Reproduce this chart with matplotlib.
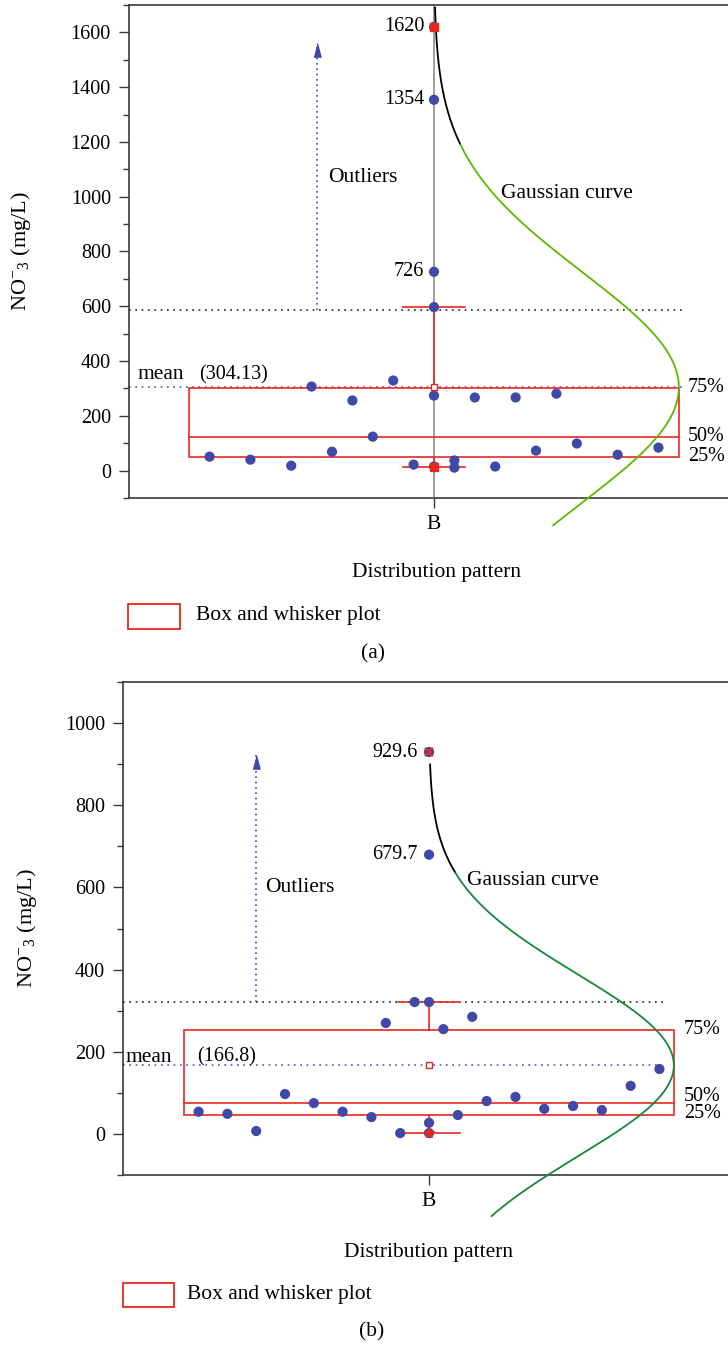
import numpy as np
import matplotlib
matplotlib.use("Agg")
import matplotlib.pyplot as plt
from matplotlib.patches import Rectangle

plt.rcParams["font.family"] = ["Liberation Serif", "DejaVu Serif"]
plt.rcParams["mathtext.fontset"] = "custom"
plt.rcParams["mathtext.rm"] = "Liberation Serif"
plt.rcParams["mathtext.it"] = "Liberation Serif:italic"

# ---------------- data ----------------
category = "B"
ylabel = r"NO$^{-}$$_{3}$ (mg/L)"

# panel (a): nitrate concentrations drawn as a swarm (slot = swarm column)
a_values = [51, 40, 18, 307, 69, 256, 124, 329, 22, 274, 597, 15, 37, 11,
            267, 15, 267, 73, 281, 99, 58, 84]
a_slots = [-11, -9, -7, -6, -5, -4, -3, -2, -1, 0, 0, 0, 1, 1,
           2, 3, 4, 5, 6, 7, 9, 11]
a_outliers = [726, 1354, 1620]
a_outlier_labels = ["726", "1354", "1620"]
a_q1, a_median, a_q3 = 51, 124, 303
a_low, a_high = 15, 597
a_mean = 304.13
a_fence = 588
a_sigma = 420

# panel (b)
b_values = [54, 49, 7, 97, 75, 54, 41, 270, 2, 321, 321, 27, 2, 255, 46,
            285, 80, 90, 61, 68, 58, 117, 158]
b_slots = [-16, -14, -12, -10, -8, -6, -4, -3, -2, -1, 0, 0, 0, 1, 2,
           3, 4, 6, 8, 10, 12, 14, 16]
b_outliers = [679.7, 929.6]
b_outlier_labels = ["679.7", "929.6"]
b_q1, b_median, b_q3 = 46, 75, 253
b_low, b_high = 2, 321
b_mean = 166.8
b_fence = 322
b_sigma = 222

# ---------------- style ----------------
BLUE = "#4149A8"
RED = "#E8281F"
SPINE = "#3a3a3a"
FS = 14.5      # numbers
FT = 15.5      # words

W, H = 728, 1346
fig = plt.figure(figsize=(W / 100, H / 100), dpi=100)


def px_rect(left, top, right, bottom):
    return [left / W, 1 - bottom / H, (right - left) / W, (bottom - top) / H]


def style_axes(ax, ylim, xlim, label_x):
    ax.set_ylim(*ylim)
    ax.set_xlim(*xlim)
    ax.spines["right"].set_visible(False)
    for s in ("left", "top", "bottom"):
        ax.spines[s].set_color(SPINE)
        ax.spines[s].set_linewidth(1.2)
    ax.set_xticks([0])
    ax.set_xticklabels([category], fontsize=FT)
    ax.tick_params(axis="x", direction="out", length=7, width=1.0,
                   color=SPINE, pad=5)
    ax.tick_params(axis="y", which="major", direction="out", length=7,
                   width=1.0, color=SPINE, labelsize=FS, pad=6)
    ax.tick_params(axis="y", which="minor", direction="out", length=4,
                   width=1.0, color=SPINE)
    ax.set_ylabel(ylabel, fontsize=16)
    ax.yaxis.set_label_coords(label_x, 0.5)


def mean_label(m):
    return ("%.2f" % m) if abs(m * 10 - round(m * 10)) > 1e-6 else ("%.1f" % m)


def draw_panel(ax, values, slots, outliers, outlier_labels, q1, median, q3,
               low, high, mean, fence, sigma, box_half, cap_half,
               curve_color, line_end, mean_end, arrow_slot, arrow_top,
               outlier_text, gauss_text, mean_text, mean_num_slot,
               pct_slot, pct_y, label_off, max_marker, min_marker):
    # box, median and whiskers
    ax.add_patch(Rectangle((-box_half, q1), 2 * box_half, q3 - q1,
                           fill=False, edgecolor=RED, lw=1.2, zorder=2))
    ax.plot([-box_half, box_half], [median, median], color=RED, lw=1.2, zorder=2)
    ax.plot([0, 0], [q3, high], color=RED, lw=1.2, zorder=2)
    ax.plot([0, 0], [low, q1], color=RED, lw=1.2, zorder=2)
    for v in (low, high):
        ax.plot([-cap_half, cap_half], [v, v], color=RED, lw=1.2, zorder=2)

    # fence line and mean line
    x0 = ax.get_xlim()[0]
    ax.plot([x0, line_end], [fence, fence], color="#222222", lw=1.2,
            linestyle=(0, (1, 2.8)), zorder=1)
    ax.plot([x0, mean_end], [mean, mean], color="#4a55c8", lw=1.2,
            linestyle=(0, (1, 2.8)), zorder=1)

    # data points
    ax.scatter(slots, values, s=54, color=BLUE, edgecolors="none", zorder=4)
    ax.scatter([0] * len(outliers), outliers, s=54, color=BLUE,
               edgecolors="none", zorder=4)
    for v, t in zip(outliers, outlier_labels):
        ax.annotate(t, (0, v), xytext=(label_off, 0), textcoords="offset points",
                    ha="right", va="center", fontsize=FS)

    # max / min / mean markers
    ax.plot(0, max(outliers), linestyle="none", **max_marker, zorder=5)
    ax.plot(0, low, linestyle="none", **min_marker, zorder=5)
    ax.plot(0, mean, marker="s", markersize=4.5, markerfacecolor="white",
            markeredgecolor=RED, markeredgewidth=1.0, zorder=5)

    # gaussian curve, drawn sideways from the category position
    y_top = min(mean + 3.3 * sigma, ax.get_ylim()[1])
    yy = np.linspace(-200, y_top, 600)
    xx = box_half * np.exp(-(yy - mean) ** 2 / (2 * sigma ** 2))
    split = mean + 2.12 * sigma
    lo = yy <= split
    ax.plot(xx[lo], yy[lo], color=curve_color, lw=1.3, clip_on=False, zorder=3)
    ax.plot(xx[~lo], yy[~lo], color="black", lw=1.3, clip_on=False, zorder=3)

    # outlier arrow
    ax.plot([arrow_slot, arrow_slot], [fence, arrow_top], color=BLUE, lw=1.2,
            linestyle=(0, (1, 2.2)), zorder=1)
    per_px = (ax.get_ylim()[1] - ax.get_ylim()[0]) / ax.bbox.height
    ax.plot(arrow_slot, arrow_top - 6.5 * per_px, linestyle="none",
            marker=[(-0.27, -0.5), (0.27, -0.5), (0, 0.5)], markersize=9.5,
            color=BLUE, zorder=3)

    # annotations
    ax.text(outlier_text[0], outlier_text[1], "Outliers", fontsize=FT,
            ha="left", va="center")
    ax.text(gauss_text[0], gauss_text[1], "Gaussian curve", fontsize=FT,
            ha="left", va="center")
    ax.text(mean_text[0], mean_text[1], "mean", fontsize=FT, ha="left",
            va="center")
    ax.text(mean_num_slot, mean_text[1], "(%s)" % mean_label(mean), fontsize=FS,
            ha="left", va="center")
    for t, y in zip(("75%", "50%", "25%"), pct_y):
        ax.text(pct_slot, y, t, fontsize=FS, ha="left", va="center",
                clip_on=False)


def legend_and_caption(xlabel_xy, box_left, box_top, box_w, box_h, text_x,
                       text_y, cap_xy, cap):
    fig.text(xlabel_xy[0] / W, 1 - xlabel_xy[1] / H, "Distribution pattern",
             fontsize=FT, ha="center", va="center")
    fig.add_artist(Rectangle((box_left / W, 1 - (box_top + box_h) / H),
                             box_w / W, box_h / H, transform=fig.transFigure,
                             fill=False, edgecolor=RED, lw=1.3))
    fig.text(text_x / W, 1 - text_y / H, "Box and whisker plot", fontsize=FT,
             ha="left", va="center")
    fig.text(cap_xy[0] / W, 1 - cap_xy[1] / H, cap, fontsize=FT,
             ha="center", va="center")


# ---------------- panel (a) ----------------
ax_a = fig.add_axes(px_rect(129, 5, 728, 498))
style_axes(ax_a, (-100, 1700), (-14.95, 14.41), (33 - 129) / 599)
ax_a.set_yticks(np.arange(0, 1601, 200))
ax_a.set_yticks(np.arange(-100, 1701, 100), minor=True)
ax_a.axvline(0, color="#8c8c8c", lw=1.2, zorder=1)
draw_panel(ax_a, a_values, a_slots, a_outliers, a_outlier_labels,
           a_q1, a_median, a_q3, a_low, a_high, a_mean, a_fence, a_sigma,
           box_half=12, cap_half=1.5, curve_color="#5DB800",
           line_end=12.25, mean_end=12.25, arrow_slot=-5.74, arrow_top=1561,
           outlier_text=(-5.2, 1072), gauss_text=(3.28, 1013),
           mean_text=(-14.55, 351), mean_num_slot=-11.5,
           pct_slot=12.45, pct_y=(a_q3, a_median, a_q1), label_off=-7,
           max_marker=dict(marker="s", markersize=6, color=RED),
           min_marker=dict(marker="s", markersize=5.5, color=RED))
legend_and_caption((436, 573), 128, 604, 52, 25, 196, 616, (373, 654), "(a)")

# ---------------- panel (b) ----------------
ax_b = fig.add_axes(px_rect(123, 682, 728, 1175))
style_axes(ax_b, (-100, 1100), (-21.25, 20.76), (39 - 123) / 605)
ax_b.set_yticks(np.arange(0, 1001, 200))
ax_b.set_yticks(np.arange(-100, 1101, 100), minor=True)
draw_panel(ax_b, b_values, b_slots, b_outliers, b_outlier_labels,
           b_q1, b_median, b_q3, b_low, b_high, b_mean, b_fence, b_sigma,
           box_half=17, cap_half=2.15, curve_color="#15893A",
           line_end=16.5, mean_end=15.8, arrow_slot=-12.0, arrow_top=922,
           outlier_text=(-11.4, 599), gauss_text=(2.64, 618),
           mean_text=(-21.1, 187), mean_num_slot=-16.1,
           pct_slot=17.7, pct_y=(b_q3, 90, 49), label_off=-8,
           max_marker=dict(marker="x", markersize=6, color=RED,
                           markeredgewidth=1.6),
           min_marker=dict(marker="*", markersize=8, color=RED))
legend_and_caption((429, 1252), 123, 1283, 51, 24, 187, 1294, (372, 1332), "(b)")

fig.savefig("out.png", dpi=100)
